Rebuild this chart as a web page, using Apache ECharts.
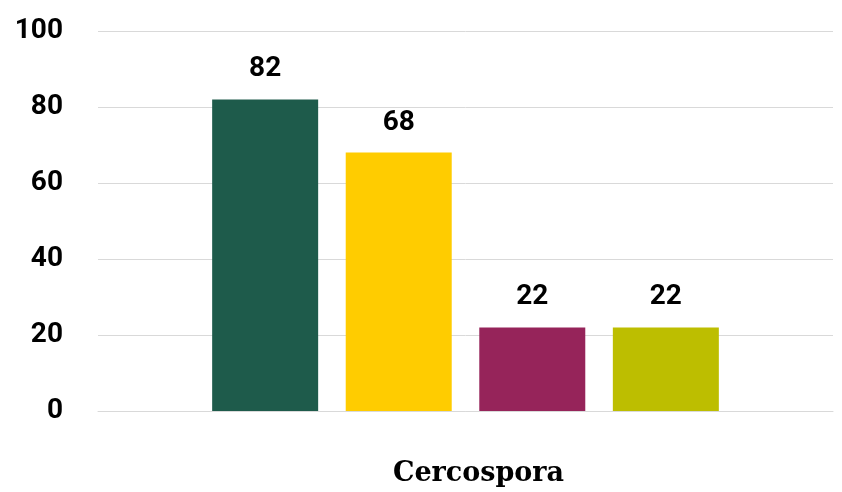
<!DOCTYPE html>
<html>
<head>
<meta charset="utf-8">
<script src="https://cdn.jsdelivr.net/npm/echarts@6/dist/echarts.min.js"></script>
<style>
  html, body { margin: 0; padding: 0; background: #fff; }
  #chart { width: 842px; height: 492px; }
</style>
</head>
<body>
<div id="chart"></div>
<script>
// categories and series values
var categories = ['Cercospora'];
var seriesNames = ['A', 'B', 'C', 'D'];
var seriesValues = [[82], [68], [22], [22]];
var seriesColors = ['#1E5B4B', '#FFCC00', '#96245A', '#BDBE00'];
var yTicks = [0, 20, 40, 60, 80, 100];

var fontNum = 'Roboto, "Noto Sans", sans-serif';
var fontCat = '"DejaVu Serif", "Liberation Serif", serif';

var chart = echarts.init(document.getElementById('chart'), null, { renderer: 'canvas' });

chart.setOption({
  animation: false,
  grid: { left: 98, right: 9, top: 31, bottom: 81, containLabel: false },
  xAxis: {
    type: 'category',
    data: categories,
    axisLine: { show: true, lineStyle: { color: '#d9d9d9', width: 1 } },
    axisTick: { show: false },
    axisLabel: {
      color: '#000',
      fontFamily: fontCat,
      fontWeight: 'bold',
      fontSize: 27,
      margin: 49,
      padding: [0, 0, 0, 26]   // reference label sits a little right of the bar group centre
    }
  },
  yAxis: {
    type: 'value',
    min: yTicks[0],
    max: yTicks[yTicks.length - 1],
    interval: 20,
    axisLine: { show: false },
    axisTick: { show: false },
    splitLine: { lineStyle: { color: '#d9d9d9', width: 1 } },
    axisLabel: {
      color: '#000',
      fontFamily: fontNum,
      fontWeight: 'bold',
      fontSize: 28,
      margin: 35
    }
  },
  series: seriesNames.map(function (name, i) {
    return {
      name: name,
      type: 'bar',
      data: seriesValues[i],
      barWidth: 106,
      barGap: '26%',
      itemStyle: { color: seriesColors[i] },
      label: {
        show: true,
        position: 'top',
        distance: 16,
        color: '#000',
        fontFamily: fontNum,
        fontWeight: 'bold',
        fontSize: 28
      }
    };
  })
});
</script>
</body>
</html>
